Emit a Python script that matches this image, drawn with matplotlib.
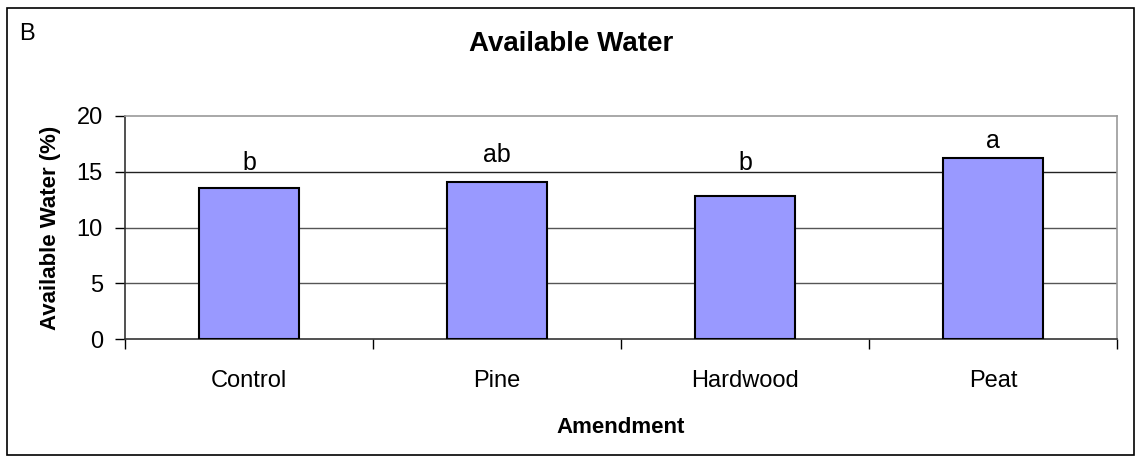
import matplotlib.pyplot as plt
import numpy as np
from matplotlib.patches import Rectangle

plt.rcParams['font.family'] = ['Liberation Sans', 'DejaVu Sans']

# data
amendments = ["Control", "Pine", "Hardwood", "Peat"]
water = [13.5, 14.1, 12.8, 16.2]
letters = ["b", "ab", "b", "a"]
letter_y = [15.2, 15.9, 15.2, 17.1]

fig = plt.figure(figsize=(11.38, 4.62), dpi=100)
ax = fig.add_axes([125 / 1138, 123 / 462, 992 / 1138, 223 / 462])

x = np.arange(len(amendments))
ax.bar(x, water, width=0.4, color="#9999FF", edgecolor="black", linewidth=1.5, zorder=3)

for xi, lab, yy in zip(x, letters, letter_y):
    ax.text(xi, yy, lab, ha="center", va="baseline", fontsize=18)

ax.set_xlim(-0.5, len(amendments) - 0.5)
ax.set_ylim(0, 20)
ax.set_yticks([0, 5, 10, 15, 20])
ax.tick_params(axis="y", labelsize=17, length=7, width=1, direction="out", pad=9)

# categories centred, ticks at boundaries
ax.set_xticks(x)
ax.set_xticklabels(amendments, fontsize=17)
ax.tick_params(axis="x", length=0, pad=22)
ax.set_xticks(np.arange(-0.5, len(amendments)), minor=True)
ax.tick_params(axis="x", which="minor", length=7, width=1, direction="out")

for yv in [5, 10, 15]:
    ax.axhline(yv, color="#222222" if yv == 15 else "#555555", linewidth=1, zorder=1)

ax.spines["left"].set_color("#333333")
ax.spines["bottom"].set_color("#333333")
ax.spines["top"].set_color("#999999")
ax.spines["right"].set_color("#999999")
for s in ax.spines.values():
    s.set_linewidth(1.2)

ax.set_ylabel("Available Water (%)", fontsize=16, fontweight="bold", labelpad=11)
ax.set_xlabel("Amendment", fontsize=16, fontweight="bold", labelpad=18)

fig.text(571 / 1138, 1 - 44 / 462, "Available Water", ha="center", va="center",
         fontsize=20, fontweight="bold")
fig.text(19 / 1138, 1 - 34 / 462, "B", ha="left", va="center", fontsize=17)

# outer chart border
fig.patches.append(Rectangle((7 / 1138, 7 / 462), 1127 / 1138, 447 / 462,
                             transform=fig.transFigure, fill=False,
                             edgecolor="black", linewidth=1.2))

fig.savefig("out.png", dpi=100)
